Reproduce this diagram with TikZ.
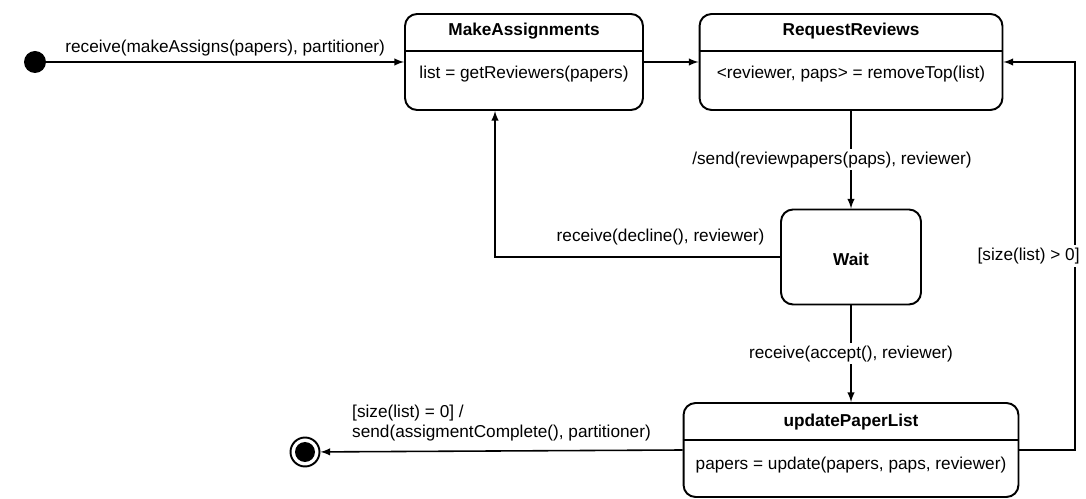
\documentclass[tikz,border=0pt]{standalone}
\usepackage{fontspec}
\setmainfont{Liberation Sans}
\usetikzlibrary{arrows}

\tikzset{
  state/.style={draw, line width=1.1pt, rounded corners=0.24cm, fill=white},
  init/.style={circle, fill=black, minimum size=0.44cm, inner sep=0pt},
  final/.style={circle, draw, line width=1.1pt, minimum size=0.58cm, inner sep=0pt,
    path picture={\fill (path picture bounding box.center) circle (0.2cm);}},
  lbl/.style={font=\fontsize{9.8}{11.5}\selectfont, inner sep=1.5pt},
  title/.style={font=\fontsize{9.8}{11.5}\selectfont\bfseries},
  body/.style={font=\fontsize{9.8}{11.5}\selectfont},
  trans/.style={->, >=latex, line width=0.9pt}
}

\begin{document}
\begin{tikzpicture}[x=0.02cm, y=-0.02cm]
\useasboundingbox (0,0) rectangle (1086,499);

% states
\node[init] (start) at (35,62) {};
\node[state, minimum width=4.76cm, minimum height=1.92cm] (make) at (524,62) {};
\node[state, minimum width=6.06cm, minimum height=1.92cm] (request) at (851,62) {};
\node[state, minimum width=2.8cm, minimum height=1.9cm] (wait) at (851,257) {};
\node[state, minimum width=6.7cm, minimum height=1.88cm] (update) at (851,450) {};
\node[final] (stop) at (305,452) {};

\draw[line width=1.1pt] (make.west |- 0,51) -- (make.east |- 0,51);
\draw[line width=1.1pt] (request.west |- 0,51) -- (request.east |- 0,51);
\draw[line width=1.1pt] (update.west |- 0,440) -- (update.east |- 0,440);

\node[title] (maketitle) at (524,31) {MakeAssignments};
\node[body] (makebody) at (524,74) {list = getReviewers(papers)};
\node[title] (reqtitle) at (851,31) {RequestReviews};
\node[body] (reqbody) at (851,74) {<reviewer, paps> = removeTop(list)};
\node[title] (waittitle) at (851,259) {Wait};
\node[title] (updtitle) at (851,422) {updatePaperList};
\node[body] (updbody) at (851,465) {papers = update(papers, paps, reviewer)};

% transitions
\coordinate (loop) at (1075,450);
\draw[trans] (start) -- (make.west)
  node[lbl, midway, above, yshift=0.04cm] {receive(makeAssigns(papers), partitioner)};
\draw[trans] (make.east) -- (request.west);
\draw[trans] (request.south) -- (wait.north)
  node[lbl, midway, fill=white, xshift=-0.38cm] {/send(reviewpapers(paps), reviewer)};
\draw[trans] (wait.west) -| ([xshift=-0.58cm]make.south)
  node[lbl, pos=0.25, above, xshift=0.46cm, yshift=0.18cm] {receive(decline(), reviewer)};
\draw[trans] (wait.south) -- (update.north)
  node[lbl, midway, fill=white] {receive(accept(), reviewer)};
\draw[trans] (update.east) -- (loop) |- (request.east)
  node[lbl, pos=0.25, fill=white, anchor=east, xshift=0.16cm] {[size(list) > 0]};
\draw[trans] (update.west) -- (stop)
  node[lbl, midway, above, align=left, yshift=0.12cm] {[size(list) = 0] /\\send(assigmentComplete(), partitioner)};

\end{tikzpicture}
\end{document}
